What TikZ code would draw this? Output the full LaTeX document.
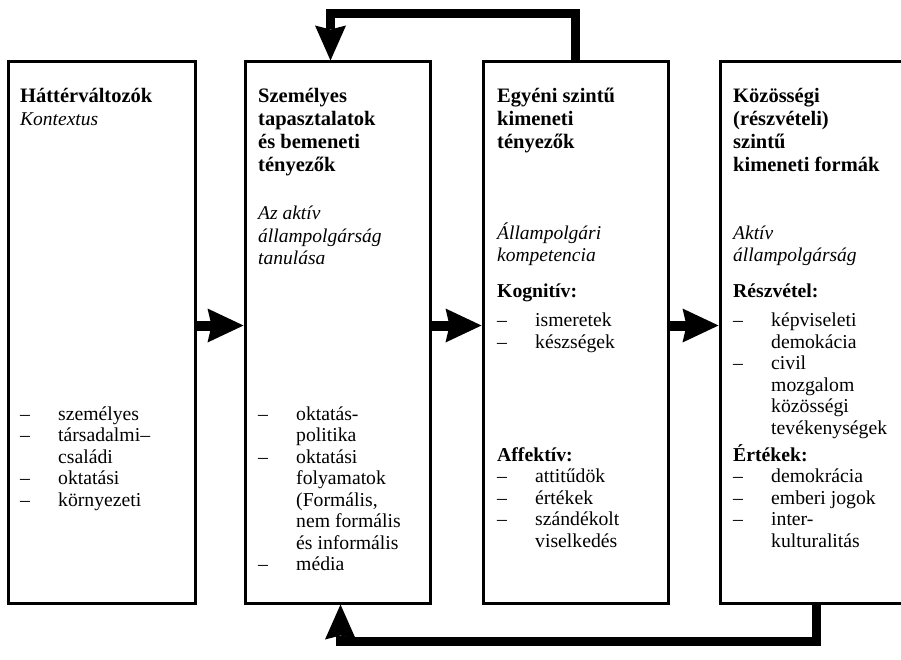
\documentclass[tikz,border=0pt]{standalone}
\usepackage{fontspec}
\setmainfont{Liberation Serif}
\usetikzlibrary{arrows.meta,positioning}
\newcommand{\rows}[1]{\begin{tabular}[t]{@{}l@{}}#1\end{tabular}}
\newcommand{\lst}[1]{\begin{tabular}[t]{@{}p{38pt}@{}l@{}}#1\end{tabular}}
\newcommand{\sub}[1]{\multicolumn{2}{@{}l@{}}{\bfseries #1}}
\tikzset{
  box/.style={draw, line width=3pt, minimum width=185pt, minimum height=541pt, inner sep=0pt},
  txt/.style={anchor=base west, inner sep=0pt, font=\fontsize{19.7}{21.5}\selectfont},
  head/.style={txt, font=\fontsize{20.5}{23}\selectfont\bfseries},
  subtitle/.style={txt, font=\fontsize{19.5}{22}\selectfont\itshape},
  flow/.style={line width=10pt, -{Stealth[length=36pt,width=34pt,inset=4pt,line width=0pt]}},
  feedback/.style={line width=9pt, line join=miter, -{Stealth[length=35pt,width=31pt,inset=4pt,line width=0pt]}}
}
\begin{document}
\begin{tikzpicture}[x=1pt,y=-1pt]
\useasboundingbox (0,0) rectangle (901,660);
\node[box, minimum width=187pt] (hatter) at (101.5,332.5) {};
\node[box, right=47pt of hatter] (szemelyes) {};
\node[box, right=50pt of szemelyes] (egyeni) {};
\node[box, right=49pt of egyeni] (kozossegi) {};

\draw[flow] ([yshift=7pt]hatter.east) -- ([yshift=7pt]szemelyes.west);
\draw[flow] ([yshift=7pt]szemelyes.east) -- ([yshift=7pt]egyeni.west);
\draw[flow] ([yshift=7pt]egyeni.east) -- ([yshift=7pt]kozossegi.west);
\draw[feedback] (egyeni.north) -- ++(0,-47) -| ([xshift=-7pt]szemelyes.north);
\draw[feedback] ([xshift=4pt]kozossegi.south) -- ++(0,37) -| ([xshift=3pt]szemelyes.south);

% hattervaltozok
\node[head] (h1) at (20,103) {Háttérváltozók};
\node[subtitle] (s1) at (20,126) {Kontextus};
\node[txt] (l1) at (20,420) {\lst{-- & személyes\\ -- & társadalmi–\\ & családi\\ -- & oktatási\\ -- & környezeti}};

% szemelyes tapasztalatok
\node[head] (h2) at (258,103) {\rows{Személyes\\ tapasztalatok\\ és bemeneti\\ tényezők}};
\node[subtitle] (s2) at (258,220) {\rows{Az aktív\\ állampolgárság\\ tanulása}};
\node[txt] (l2) at (258,420) {\lst{-- & oktatás-\\ & politika\\ -- & oktatási\\ & folyamatok\\ & (Formális,\\ & nem formális\\ & és informális\\ -- & média}};

% egyeni szintu
\node[head] (h3) at (497,103) {\rows{Egyéni szintű\\ kimeneti\\ tényezők}};
\node[subtitle] (s3) at (497,240) {\rows{Állampolgári\\ kompetencia}};
\node[txt] (l3a) at (497,297) {\lst{\sub{Kognitív:}\\[8pt] -- & ismeretek\\ -- & készségek}};
\node[txt] (l3b) at (497,461) {\lst{\sub{Affektív:}\\ -- & attitűdök\\ -- & értékek\\ -- & szándékolt\\ & viselkedés}};

% kozossegi szintu
\node[head] (h4) at (733,103) {\rows{Közösségi\\ (részvételi)\\ szintű\\ kimeneti formák}};
\node[subtitle] (s4) at (733,240) {\rows{Aktív\\ állampolgárság}};
\node[txt] (l4a) at (733,297) {\lst{\sub{Részvétel:}\\[8pt] -- & képviseleti\\ & demokácia\\ -- & civil\\ & mozgalom\\ & közösségi\\ & tevékenységek}};
\node[txt] (l4b) at (733,461) {\lst{\sub{Értékek:}\\ -- & demokrácia\\ -- & emberi jogok\\ -- & inter-\\ & kulturalitás}};
\end{tikzpicture}
\end{document}
